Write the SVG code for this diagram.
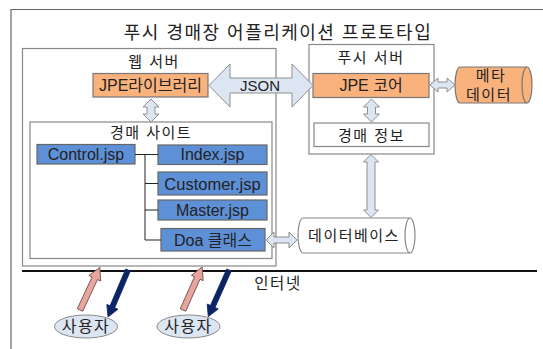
<svg xmlns="http://www.w3.org/2000/svg" width="543" height="349" viewBox="0 0 543 349">
  <style>
    text { font-family: "Liberation Sans", "Noto Sans CJK KR", sans-serif; fill: #222; }
    .ko { letter-spacing: 1.5px; }
    .frame { fill: none; stroke: #666; stroke-width: 1.2; }
    .box { fill: #fff; stroke: #888; stroke-width: 1.2; }
    .orange { fill: #FAB27D; stroke: #777; stroke-width: 1.2; }
    .blue { fill: #5E90D8; stroke: #666; stroke-width: 1.2; }
    .dbl { fill: #DCE6F2; stroke: #8E8E8E; stroke-width: 1; }
    .link { fill: none; stroke: #222; stroke-width: 1; }
    .up { fill: #E8A59E; stroke: #6B4A48; stroke-width: 0.8; }
    .down { fill: #0B2466; stroke: #0B2466; stroke-width: 0.8; }
    .user { fill: #DCE6F2; stroke: #888; stroke-width: 1; }
  </style>

  <!-- outer frame -->
  <path class="frame" d="M11,349 L11,9.5 L543,9.5"/>
  <text x="278" y="39" font-size="18" text-anchor="middle" class="ko">푸시 경매장 어플리케이션 프로토타입</text>

  <!-- web server -->
  <g id="web-server">
    <rect class="box" x="22.5" y="48.5" width="253.5" height="217.5"/>
    <text x="154" y="67" font-size="15" text-anchor="middle" class="ko">웹 서버</text>
  </g>
  <g id="jpe-library">
    <rect class="orange" x="93" y="73.5" width="115" height="23.5"/>
    <text x="150.5" y="91" font-size="16" text-anchor="middle">JPE라이브러리</text>
  </g>
  <g id="auction-site">
    <rect class="box" x="30" y="122" width="242" height="136.5"/>
    <text x="151" y="138" font-size="15" text-anchor="middle" class="ko">경매 사이트</text>
  </g>
  <g id="control-jsp">
    <rect class="blue" x="37" y="144.5" width="98" height="19.5"/>
    <text x="86" y="160" font-size="16" text-anchor="middle">Control.jsp</text>
  </g>
  <g id="index-jsp">
    <rect class="blue" x="158" y="145" width="109" height="19.5"/>
    <text x="212.5" y="160" font-size="16" text-anchor="middle">Index.jsp</text>
  </g>
  <g id="customer-jsp">
    <rect class="blue" x="158" y="172" width="109" height="23"/>
    <text x="212.5" y="189.5" font-size="16.5" text-anchor="middle">Customer.jsp</text>
  </g>
  <g id="master-jsp">
    <rect class="blue" x="158" y="200" width="109" height="20"/>
    <text x="212.5" y="215.5" font-size="16" text-anchor="middle">Master.jsp</text>
  </g>
  <g id="doa-class">
    <rect class="blue" x="161" y="228.5" width="104" height="22.5"/>
    <text x="213" y="245.5" font-size="16" text-anchor="middle">Doa 클래스</text>
  </g>

  <!-- push server -->
  <g id="push-server">
    <rect class="box" x="309" y="44.5" width="125" height="109.5"/>
    <text x="371" y="63" font-size="15" text-anchor="middle" class="ko">푸시 서버</text>
  </g>
  <g id="jpe-core">
    <rect class="orange" x="313" y="73.5" width="116" height="24"/>
    <text x="371" y="90.5" font-size="16" text-anchor="middle">JPE 코어</text>
  </g>
  <g id="auction-info">
    <rect class="box" x="314" y="123" width="115" height="23.5"/>
    <text x="371.5" y="141" font-size="15" text-anchor="middle" class="ko">경매 정보</text>
  </g>

  <!-- data stores -->
  <g id="meta-data">
    <path class="orange" d="M460,67 L527,67 A5,18 0 0 1 527,103 L460,103 A5,18 0 0 1 460,67 Z"/>
    <path fill="none" stroke="#777" stroke-width="1.2" d="M527,67 A5,18 0 0 0 527,103"/>
    <text x="491" y="81" font-size="15" text-anchor="middle" class="ko">메타</text>
    <text x="489" y="99.5" font-size="15" text-anchor="middle" class="ko">데이터</text>
  </g>
  <g id="database">
    <path class="box" d="M303,218 L410,218 A5,17.5 0 0 1 410,253 L303,253 A5,17.5 0 0 1 303,218 Z"/>
    <path fill="none" stroke="#888" stroke-width="1.2" d="M410,218 A5,17.5 0 0 0 410,253"/>
    <text x="354" y="241" font-size="15" text-anchor="middle" class="ko">데이터베이스</text>
  </g>

  <!-- users -->
  <g id="user-1">
    <ellipse class="user" cx="86" cy="326.5" rx="31.5" ry="11.5"/>
    <text x="86" y="331.5" font-size="16" text-anchor="middle" class="ko">사용자</text>
  </g>
  <g id="user-2">
    <ellipse class="user" cx="188.5" cy="326.5" rx="31.5" ry="11.5"/>
    <text x="188.5" y="331.5" font-size="16" text-anchor="middle" class="ko">사용자</text>
  </g>

  <!-- internet -->
  <g id="internet">
    <line x1="22" y1="271" x2="537" y2="271" stroke="#111" stroke-width="2"/>
    <text x="278" y="289" font-size="15.5" text-anchor="middle" class="ko">인터넷</text>
  </g>

  <!-- connectors -->
  <g id="connectors">
    <!-- tree from Control.jsp -->
    <path class="link" d="M135,154.5 L158,154.5 M145,154.5 L145,240 L161,240 M145,183.5 L158,183.5 M145,210 L158,210"/>
    <!-- JSON exchange -->
    <path class="dbl" d="M209,85.5 L230,64 L230,78 L292,78 L292,64 L313,85.5 L292,107 L292,93 L230,93 L230,107 Z"/>
    <text x="260" y="91" font-size="15" text-anchor="middle">JSON</text>
    <!-- library to site -->
    <path class="dbl" d="M151,99 L159,107 L155,107 L155,114 L159,114 L151,122 L143,114 L147,114 L147,107 L143,107 Z"/>
    <!-- core to auction info -->
    <path class="dbl" d="M371.5,99 L379.5,107 L375.5,107 L375.5,114 L379.5,114 L371.5,122 L363.5,114 L367.5,114 L367.5,107 L363.5,107 Z"/>
    <!-- core to metadata -->
    <path class="dbl" d="M430,85 L438,78 L438,82 L447,82 L447,78 L455,85 L447,92 L447,88 L438,88 L438,92 Z"/>
    <!-- push server to database -->
    <path class="dbl" d="M371,154.5 L378.5,162 L375,162 L375,210 L378.5,210 L371,217.5 L363.5,210 L367,210 L367,162 L363.5,162 Z"/>
    <!-- Doa to database -->
    <path class="dbl" d="M266,240 L274,232 L274,237 L289,237 L289,232 L297,240 L289,248 L289,243 L274,243 L274,248 Z"/>
    <!-- user traffic -->
    <polygon class="up" transform="translate(80,310) rotate(-65)" points="0,-3 35,-3 35,-6.5 47,0 35,6.5 35,3 0,3"/>
    <polygon class="down" transform="translate(128,270) rotate(113)" points="0,-2.5 40,-2.5 40,-6 51,0 40,6 40,2.5 0,2.5"/>
    <polygon class="up" transform="translate(183,310) rotate(-66)" points="0,-3 35,-3 35,-6.5 47,0 35,6.5 35,3 0,3"/>
    <polygon class="down" transform="translate(229,270) rotate(114)" points="0,-2.5 40,-2.5 40,-6 51,0 40,6 40,2.5 0,2.5"/>
  </g>
</svg>
